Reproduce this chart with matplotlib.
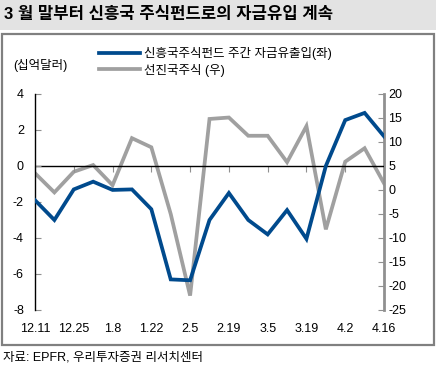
import matplotlib
matplotlib.use("Agg")
import matplotlib.pyplot as plt
from matplotlib.patches import Rectangle

plt.rcParams['font.family'] = ['Liberation Sans', 'Noto Sans CJK KR', 'DejaVu Sans']

dates = ["12.11", "12.18", "12.25", "1.1", "1.8", "1.15", "1.22", "1.29", "2.5", "2.12",
         "2.19", "2.26", "3.5", "3.12", "3.19", "3.26", "4.2", "4.9", "4.16"]
em_flow = [-1.9, -3.0, -1.3, -0.87, -1.33, -1.3, -2.4, -6.3, -6.35, -3.0,
           -1.5, -3.0, -3.8, -2.45, -4.05, 0.0, 2.55, 2.95, 1.65]
dm_equity = [3.5, -0.5, 3.8, 5.2, 1.0, 10.8, 8.9, -5.0, -22.0, 14.8,
             15.1, 11.3, 11.3, 5.8, 13.3, -8.2, 5.9, 8.7, 1.4]
label_dates = dates[::2]
left_ticks = [4, 2, 0, -2, -4, -6, -8]
right_ticks = [20, 15, 10, 5, 0, -5, -10, -15, -20, -25]

title = "3 월 말부터 신흥국 주식펀드로의 자금유입 계속"
unit = "(십억달러)"
leg1 = "신흥국주식펀드 주간 자금유출입(좌)"
leg2 = "선진국주식 (우)"
source = "자료: EPFR, 우리투자증권 리서치센터"

W, H = 436, 369
fig = plt.figure(figsize=(W / 100, H / 100), dpi=100)

# title band and frame
fig.patches.append(Rectangle((0, 1 - 30 / H), 1, 30 / H, transform=fig.transFigure,
                             facecolor="#e3e3e3", edgecolor="none", zorder=-2))
fig.patches.append(Rectangle((2 / W, 1 - 345 / H), 432 / W, 311 / H, transform=fig.transFigure,
                             facecolor="white", edgecolor="#808080", linewidth=1.6, zorder=-2))
fig.text(4 / W, 1 - 15 / H, title, fontsize=12, fontweight="bold", va="center", ha="left",
         color="black")
fig.text(3 / W, 1 - 357 / H, source, fontsize=9, va="center", ha="left", color="black")

x = list(range(len(dates)))
ax = fig.add_axes([35 / W, 1 - 310 / H, 349 / W, 216 / H])
ax2 = ax.twinx()

ax.plot(x, em_flow, color="#004a8d", linewidth=2.7, zorder=3, label=leg1,
        solid_joinstyle="miter")
ax2.plot(x, dm_equity, color="#a0a0a0", linewidth=2.7, zorder=2, label=leg2,
         solid_joinstyle="miter")
ax.set_zorder(ax2.get_zorder() + 1)
ax.patch.set_visible(False)
ax2.patch.set_visible(False)

ax.set_xlim(0, len(dates) - 1)
ax.set_ylim(-8, 4)
ax2.set_ylim(-25, 20)
ax.set_yticks(left_ticks)
ax.set_yticklabels([str(v) for v in left_ticks])
ax2.set_yticks(right_ticks)
ax2.set_yticklabels([str(v) for v in right_ticks])

for a in (ax, ax2):
    a.spines["top"].set_visible(False)
    a.spines["bottom"].set_visible(False)
ax.spines["right"].set_visible(False)
ax2.spines["left"].set_visible(False)
ax.spines["left"].set_color("black")
ax.spines["left"].set_linewidth(1.0)
ax2.spines["right"].set_color("#909090")
ax2.spines["right"].set_linewidth(2.0)

ax.tick_params(axis="y", direction="in", length=4, width=0.8, colors="#909090",
               labelcolor="black", labelsize=9, pad=8)
ax2.tick_params(axis="y", direction="in", length=4, width=0.8, colors="#909090",
                labelcolor="black", labelsize=9, pad=3)

label_pos = x[::2]
ax.set_xticks(label_pos)
ax.set_xticklabels(label_dates)
ax.tick_params(axis="x", length=0, labelsize=9, pad=9, labelcolor="black")

ax.axhline(0, color="black", linewidth=1.0, zorder=1)
sec = ax.secondary_xaxis(8 / 12)
sec.set_xticks(label_pos)
sec.tick_params(axis="x", direction="in", length=4, width=0.8, colors="#909090",
                labelbottom=False, labeltop=False)
for s in sec.spines.values():
    s.set_visible(False)

# legend
h1 = ax.get_lines()[0]
h2 = ax2.get_lines()[0]
fig.legend([h1, h2], [leg1, leg2], loc="upper left", bbox_to_anchor=(99 / W, 1 - 47 / H),
           frameon=False, fontsize=9, handlelength=3.3, handletextpad=0.3,
           labelspacing=0.3, borderaxespad=0, borderpad=0)
fig.text(13 / W, 1 - 65 / H, unit, fontsize=9, va="center", ha="left", color="black")

fig.savefig("out.png", dpi=100)
